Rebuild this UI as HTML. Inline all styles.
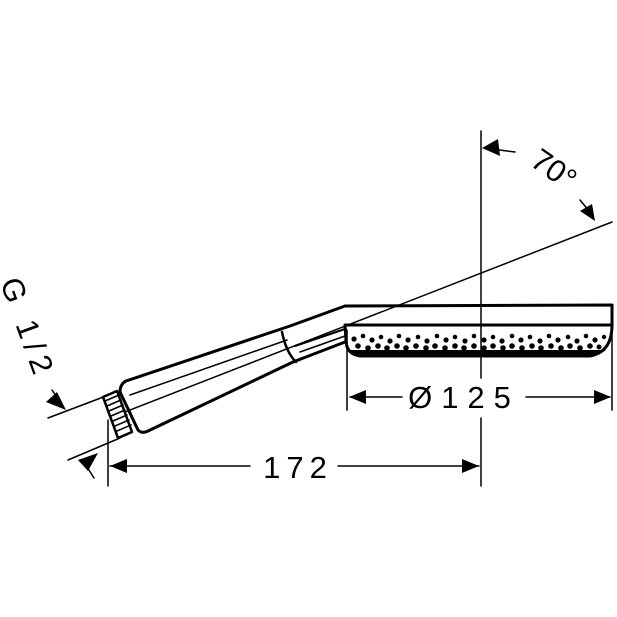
<!DOCTYPE html>
<html><head><meta charset="utf-8"><style>html,body{margin:0;padding:0;background:#fff}svg{display:block}</style></head>
<body>
<svg width="617" height="617" viewBox="0 0 617 617" xmlns="http://www.w3.org/2000/svg" font-family="Liberation Sans, sans-serif">
<g stroke="#000" fill="none" stroke-linecap="round" stroke-linejoin="round">
<line x1="481" y1="131" x2="481" y2="378" stroke-width="1.5"/>
<line x1="481" y1="418" x2="481" y2="486" stroke-width="1.5"/>
<line x1="125" y1="412" x2="612" y2="222" stroke-width="1.5"/>
<line x1="48" y1="418" x2="106" y2="396" stroke-width="1.5"/>
<line x1="68" y1="460" x2="120" y2="438" stroke-width="1.5"/>
<path d="M345 306 L612 305 L612 325" stroke-width="3"/>
<path d="M345 325 L612 325 Q612 352 590 356 L360 356 Q346 354 346 340 Z" stroke-width="3"/>
<path d="M345 306 L290 326 L126 381 Q120 384 120 392 L138 430 Q142 434 148 431 L293 362 L345 342" stroke-width="3"/>
<path d="M282 332 Q286 352 296 362" stroke-width="2.5"/>
<path d="M295 346 L345 329" stroke-width="2"/>
<path d="M300 352 L345 336" stroke-width="1.5"/>
<line x1="130" y1="395" x2="287" y2="340" stroke-width="1.5"/>
<path d="M103 397 L117 391 L132 432 L118 438 Z" stroke-width="2.5"/>
<path d="M105 401 L119 395 M107 406 L121 400 M109 411 L123 405 M111 416 L125 410 M113 421 L127 415 M115 426 L129 420 M117 431 L131 425" stroke-width="1.5"/>
<line x1="347" y1="330" x2="347" y2="410" stroke-width="1.5"/>
<line x1="612" y1="325" x2="612" y2="410" stroke-width="1.5"/>
<line x1="350" y1="397" x2="402" y2="397" stroke-width="1.5"/>
<line x1="526" y1="397" x2="610" y2="397" stroke-width="1.5"/>
<line x1="108" y1="420" x2="108" y2="486" stroke-width="1.5"/>
<line x1="110" y1="466" x2="250" y2="466" stroke-width="1.5"/>
<line x1="338" y1="466" x2="479" y2="466" stroke-width="1.5"/>
<line x1="484" y1="148" x2="515" y2="152" stroke-width="1.5"/>
<line x1="580" y1="200" x2="590" y2="212" stroke-width="1.5"/>
<line x1="52" y1="390" x2="60" y2="402" stroke-width="1.5"/>
<line x1="87" y1="467" x2="94" y2="478" stroke-width="1.5"/>
</g>
<!-- head dots -->
<g fill="#000">
<path d="M350 350 L606 350 Q600 355 590 356 L360 356 Q351 355 350 350 Z"/>
<circle cx="354" cy="339" r="2.6"/><circle cx="363" cy="336" r="2.3"/><circle cx="372" cy="340" r="2.6"/><circle cx="381" cy="337" r="2.3"/><circle cx="390" cy="341" r="2.6"/><circle cx="399" cy="336" r="2.3"/><circle cx="408" cy="340" r="2.6"/><circle cx="418" cy="337" r="2.3"/><circle cx="427" cy="341" r="2.6"/><circle cx="437" cy="336" r="2.3"/><circle cx="446" cy="340" r="2.6"/><circle cx="455" cy="337" r="2.3"/><circle cx="465" cy="341" r="2.6"/><circle cx="474" cy="336" r="2.3"/><circle cx="484" cy="340" r="2.6"/><circle cx="493" cy="337" r="2.3"/><circle cx="502" cy="341" r="2.6"/><circle cx="512" cy="336" r="2.3"/><circle cx="521" cy="340" r="2.6"/><circle cx="530" cy="337" r="2.3"/><circle cx="540" cy="341" r="2.6"/><circle cx="549" cy="336" r="2.3"/><circle cx="558" cy="340" r="2.6"/><circle cx="568" cy="337" r="2.3"/><circle cx="577" cy="341" r="2.6"/><circle cx="586" cy="336" r="2.3"/><circle cx="595" cy="340" r="2.6"/><circle cx="604" cy="337" r="2.2"/>
<circle cx="358" cy="346" r="2.8"/><circle cx="368" cy="348" r="2.8"/><circle cx="378" cy="346" r="2.8"/><circle cx="387" cy="348" r="2.8"/><circle cx="397" cy="346" r="2.8"/><circle cx="406" cy="348" r="2.8"/><circle cx="416" cy="346" r="2.8"/><circle cx="426" cy="348" r="2.8"/><circle cx="435" cy="346" r="2.8"/><circle cx="445" cy="348" r="2.8"/><circle cx="455" cy="346" r="2.8"/><circle cx="464" cy="348" r="2.8"/><circle cx="474" cy="346" r="2.8"/><circle cx="484" cy="348" r="2.8"/><circle cx="493" cy="346" r="2.8"/><circle cx="503" cy="348" r="2.8"/><circle cx="512" cy="346" r="2.8"/><circle cx="522" cy="348" r="2.8"/><circle cx="532" cy="346" r="2.8"/><circle cx="541" cy="348" r="2.8"/><circle cx="551" cy="346" r="2.8"/><circle cx="561" cy="348" r="2.8"/><circle cx="570" cy="346" r="2.8"/><circle cx="580" cy="348" r="2.8"/><circle cx="590" cy="346" r="2.8"/><circle cx="599" cy="347" r="2.5"/>
</g>
<g fill="#fff">
<circle cx="363" cy="349" r="1"/><circle cx="392" cy="347" r="1"/><circle cx="421" cy="349" r="1"/><circle cx="450" cy="347" r="1"/><circle cx="479" cy="349" r="1"/><circle cx="508" cy="347" r="1"/><circle cx="537" cy="349" r="1"/><circle cx="566" cy="347" r="1"/><circle cx="594" cy="349" r="1"/>
</g>
<g fill="#000">
<polygon points="349,397 366,390 366,404"/>
<polygon points="611,397 594,390 594,404"/>
<polygon points="110,466 127,459 127,473"/>
<polygon points="479,466 462,459 462,473"/>
<polygon points="482,148 498,139 500,156"/>
<polygon points="595,221 580,211 592,204"/>
<polygon points="66,410 46,402 57,392"/>
<polygon points="98,453 88,471 78,460"/>
</g>
<g font-size="31" fill="#000">
<text x="464" y="408" text-anchor="middle" letter-spacing="9">Ø125</text>
<text x="298" y="478" text-anchor="middle" letter-spacing="6">172</text>
<text transform="translate(548,178) rotate(35)" text-anchor="middle">70°</text>
<text transform="translate(18,332) rotate(70)" text-anchor="middle" letter-spacing="6">G 1/2</text>
</g>
</svg>
</body></html>
